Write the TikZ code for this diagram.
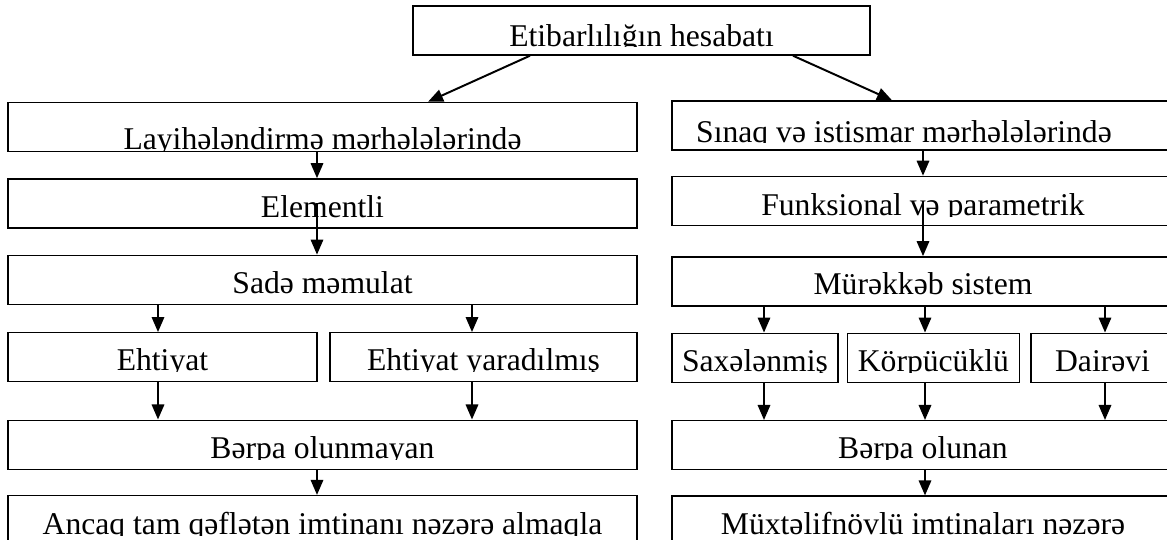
\documentclass[tikz,border=0pt]{standalone}
\usepackage{fontspec}
\setmainfont{Liberation Serif}
\usetikzlibrary{positioning}
\usetikzlibrary{arrows.meta}

\tikzset{
  blok/.style={draw, line width=1pt, minimum height=1.225cm, inner sep=0pt},
  yazi/.style n args={3}{path picture={
      \clip ([yshift=#2-0.02cm]path picture bounding box.south west) rectangle (path picture bounding box.north east);
      \node[anchor=base, inner sep=0pt] at ([xshift=#1, yshift=#2]path picture bounding box.south) {#3};}},
  ox/.style={-{Triangle[length=0.375cm, width=0.31cm]}, line width=1.4pt},
}

\begin{document}
\begin{tikzpicture}[x=0.025cm, y=-0.025cm, font=\fontsize{22.5}{27}\selectfont]
        \useasboundingbox (0,0) rectangle (1167,540);

        % arrow columns %
        \coordinate (a1) at (530,0);
        \coordinate (a2) at (428,0);
        \coordinate (a3) at (793,0);
        \coordinate (a4) at (892,0);
        \coordinate (xl) at (317,0);
        \coordinate (xe) at (158,0);
        \coordinate (xy) at (472,0);
        \coordinate (xr) at (923,0);
        \coordinate (xs) at (764,0);
        \coordinate (xk) at (925,0);
        \coordinate (xd) at (1105,0);

        % nodes %
        \node[blok, minimum width=11.425cm, yazi={0cm}{0.225cm}{Etibarlılığın hesabatı}] (hes) at (641.5,30.5) {};

        \node[blok, minimum width=15.725cm, yazi={0cm}{0.05cm}{Layihələndirmə mərhələlərində}] (lay) at (322.5,127) {};
        \node[blok, minimum width=15.725cm, below=0.65cm of lay, yazi={0cm}{0.25cm}{Elementli}] (elem) {};
        \node[blok, minimum width=15.725cm, below=0.65cm of elem, yazi={0cm}{0.275cm}{Sadə məmulat}] (sade) {};
        \node[blok, minimum width=7.725cm, below=0.675cm of sade.south west, anchor=north west, yazi={0cm}{0.275cm}{Ehtiyat}] (eht) {};
        \node[blok, minimum width=7.675cm, below=0.675cm of sade.south east, anchor=north east, yazi={0cm}{0.275cm}{Ehtiyat yaradılmış}] (yar) {};
        \node[blok, minimum width=15.725cm, below=0.925cm of eht.south west, anchor=north west, yazi={0cm}{0.275cm}{Bərpa olunmayan}] (bolm) {};
        \node[blok, minimum width=15.725cm, below=0.625cm of bolm, yazi={0cm}{0.25cm}{Ancaq tam qəflətən imtinanı nəzərə almaqla}] (anc) {};

        \node[blok, minimum width=12.55cm, yazi={-0.475cm}{0.2cm}{Sınaq və istismar mərhələlərində}] (sin) at (923,125.5) {};
        \node[blok, minimum width=12.55cm, below=0.625cm of sin, yazi={0cm}{0.25cm}{Funksional və parametrik}] (fun) {};
        \node[blok, minimum width=12.55cm, below=0.75cm of fun, yazi={0cm}{0.275cm}{Mürəkkəb sistem}] (mur) {};
        \node[blok, minimum width=4.15cm, below=0.65cm of mur.south west, anchor=north west, yazi={0cm}{0.275cm}{Saxələnmiş}] (sax) {};
        \node[blok, minimum width=4.3cm, right=0.2cm of sax, yazi={0cm}{0.275cm}{Körpücüklü}] (kor) {};
        \node[blok, minimum width=3.575cm, below=0.65cm of mur.south east, anchor=north east, yazi={0cm}{0.275cm}{Dairəvi}] (dai) {};
        \node[blok, minimum width=12.55cm, below=0.925cm of sax.south west, anchor=north west, yazi={0cm}{0.275cm}{Bərpa olunan}] (bol) {};
        \node[blok, minimum width=12.55cm, below=0.625cm of bol, yazi={0cm}{0.275cm}{Müxtəlifnövlü imtinaları nəzərə}] (mux) {};

        % edges %
        \draw[ox] (hes.south -| a1) -- (lay.north -| a2);
        \draw[ox] (hes.south -| a3) -- (sin.north -| a4);
        \draw[ox] (lay.south -| xl) -- (elem.north -| xl);
        \draw[ox] (elem.center -| xl) -- (sade.north -| xl);
        \draw[ox] (sade.south -| xe) -- (eht.north -| xe);
        \draw[ox] (sade.south -| xy) -- (yar.north -| xy);
        \draw[ox] (eht.south -| xe) -- (bolm.north -| xe);
        \draw[ox] (yar.south -| xy) -- (bolm.north -| xy);
        \draw[ox] (bolm.south -| xl) -- (anc.north -| xl);
        \draw[ox] (sin.south -| xr) -- (fun.north -| xr);
        \draw[ox] (fun.center -| xr) -- (mur.north -| xr);
        \draw[ox] (mur.south -| xs) -- (sax.north -| xs);
        \draw[ox] (mur.south -| xk) -- (kor.north -| xk);
        \draw[ox] (mur.south -| xd) -- (dai.north -| xd);
        \draw[ox] (sax.south -| xs) -- (bol.north -| xs);
        \draw[ox] (kor.south -| xk) -- (bol.north -| xk);
        \draw[ox] (dai.south -| xd) -- (bol.north -| xd);
        \draw[ox] (bol.south -| xk) -- (mux.north -| xk);
\end{tikzpicture}
\end{document}
